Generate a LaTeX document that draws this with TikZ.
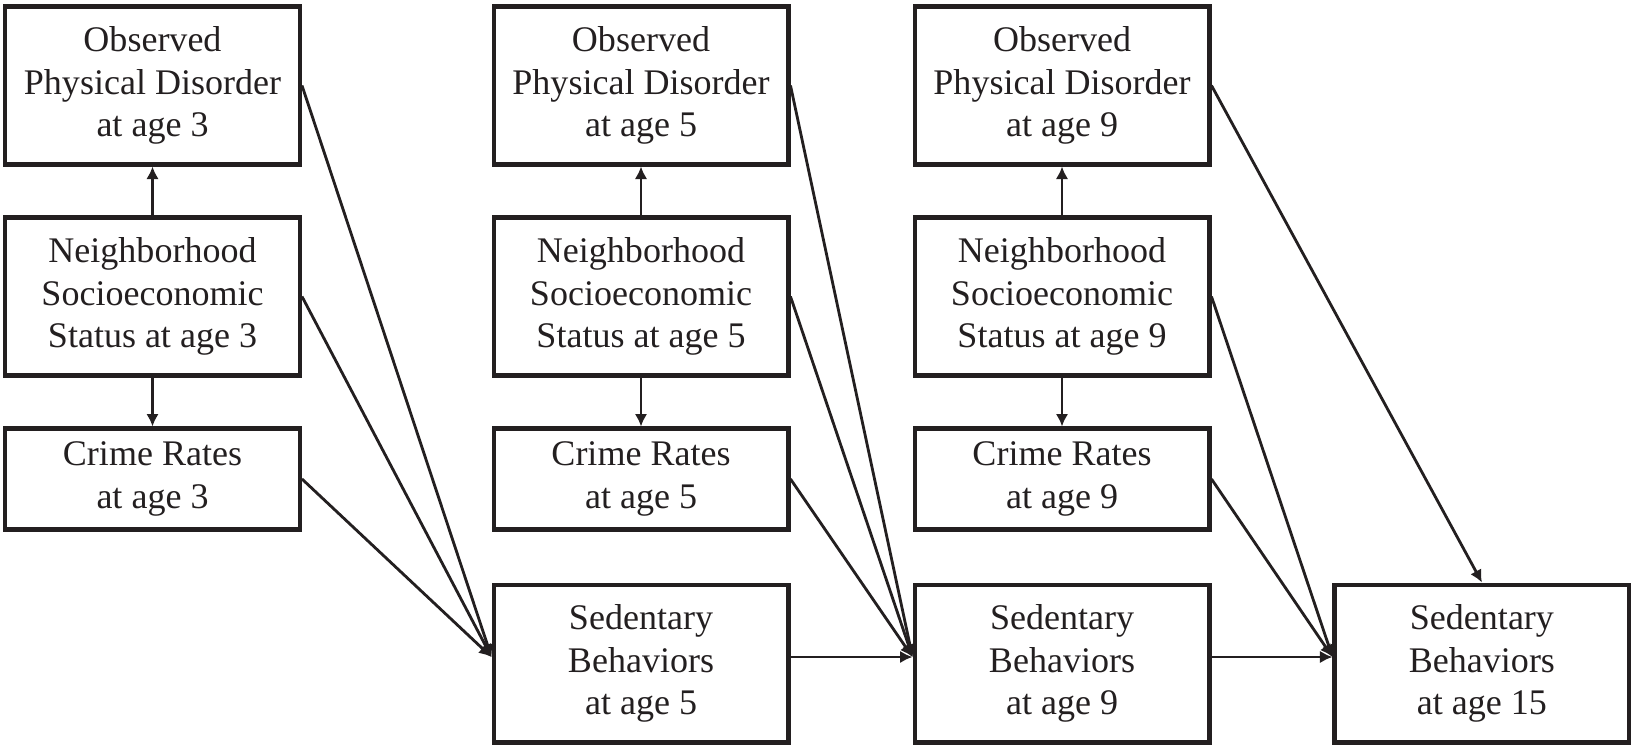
\documentclass[tikz,border=0pt]{standalone}
\usepackage{fontspec}
\setmainfont{Liberation Serif}
\usetikzlibrary{positioning,arrows.meta}
\definecolor{ink}{RGB}{35,31,32}

\begin{document}
\begin{tikzpicture}[x=0.02cm, y=0.02cm, node distance=0.98cm,
  every node/.style={font=\fontsize{20.5}{24.4}\selectfont, text=ink},
  box/.style={draw=ink, line width=2.3pt, align=center, minimum width=5.9cm, inner sep=0pt},
  tallbox/.style={box, minimum height=3.16cm},
  shortbox/.style={box, minimum height=2.02cm},
  link/.style={->, draw=ink, line width=1.6pt},
  >={Latex[length=0.25cm, width=0.25cm]}]
\useasboundingbox (0,0) rectangle (1633,-750);
% age 3
\node[tallbox] (pd3) at (152.5,-85.5) {Observed\\Physical Disorder\\at age 3};
\node[tallbox, below=of pd3] (ses3) {Neighborhood\\Socioeconomic\\Status at age 3};
\node[shortbox, below=of ses3] (cr3) {Crime Rates\\at age 3};
% age 5
\node[tallbox] (pd5) at (641,-85.5) {Observed\\Physical Disorder\\at age 5};
\node[tallbox, below=of pd5] (ses5) {Neighborhood\\Socioeconomic\\Status at age 5};
\node[shortbox, below=of ses5] (cr5) {Crime Rates\\at age 5};
\node[tallbox, below=1.02cm of cr5] (sb5) {Sedentary\\Behaviors\\at age 5};
% age 9
\node[tallbox] (pd9) at (1062,-85.5) {Observed\\Physical Disorder\\at age 9};
\node[tallbox, below=of pd9] (ses9) {Neighborhood\\Socioeconomic\\Status at age 9};
\node[shortbox, below=of ses9] (cr9) {Crime Rates\\at age 9};
\node[tallbox, below=1.02cm of cr9] (sb9) {Sedentary\\Behaviors\\at age 9};
% age 15
\node[tallbox, right=2.42cm of sb9] (sb15) {Sedentary\\Behaviors\\at age 15};

\foreach \x/\y in {ses3/pd3,ses3/cr3,ses5/pd5,ses5/cr5,ses9/pd9,ses9/cr9}
  \draw[link] (\x) -- (\y);
\foreach \x/\y in {pd3/sb5,ses3/sb5,cr3/sb5,pd5/sb9,ses5/sb9,cr5/sb9,ses9/sb15,cr9/sb15}
  \draw[link] (\x.east) -- ([yshift=0.13cm]\y.west);
\foreach \x/\y in {sb5/sb9,sb9/sb15}
  \draw[link] ([yshift=0.13cm]\x.east) -- ([yshift=0.13cm]\y.west);
\draw[link] (pd9.east) -- (sb15.north);
\end{tikzpicture}
\end{document}
